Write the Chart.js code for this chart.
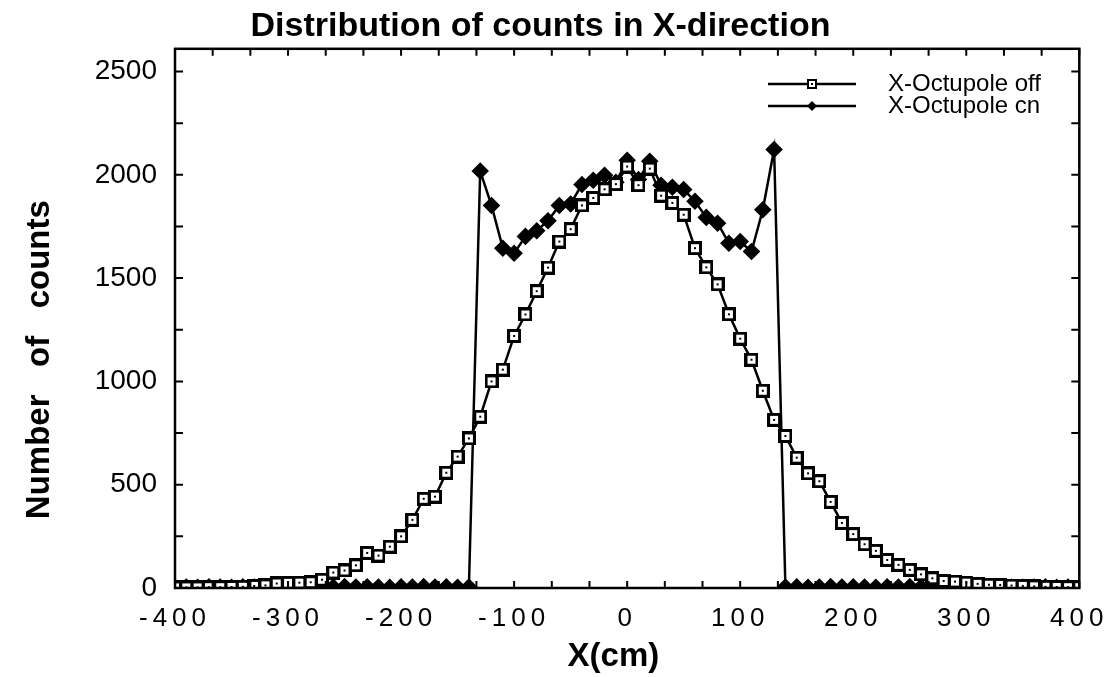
<!DOCTYPE html>
<html>
<head>
<meta charset="utf-8">
<script src="https://cdn.jsdelivr.net/npm/chart.js@4.4.0/dist/chart.umd.min.js"></script>
<style>
  html, body { margin: 0; padding: 0; background: #fff; }
</style>
</head>
<body>
<canvas id="chart" width="1116" height="677"></canvas>
<script>
// X position of each bin (cm)
const xPositions = [
  -400, -390, -380, -370, -360, -350, -340, -330, -320, -310,
  -300, -290, -280, -270, -260, -250, -240, -230, -220, -210,
  -200, -190, -180, -170, -160, -150, -140, -130, -120, -110,
  -100, -90, -80, -70, -60, -50, -40, -30, -20, -10,
  0, 10, 20, 30, 40, 50, 60, 70, 80, 90,
  100, 110, 120, 130, 140, 150, 160, 170, 180, 190,
  200, 210, 220, 230, 240, 250, 260, 270, 280, 290,
  300, 310, 320, 330, 340, 350, 360, 370, 380, 390, 400
];

// counts with the octupole switched off
const countsOff = [
  3, 3, 3, 4, 4, 5, 6, 10, 13, 22,
  25, 26, 28, 40, 75, 85, 110, 170, 157, 200,
  250, 330, 432, 442, 558, 636, 724, 829, 1000, 1057,
  1220, 1324, 1437, 1551, 1677, 1737, 1852, 1888, 1930, 1955,
  2040, 1950, 2030, 1899, 1864, 1807, 1645, 1552, 1470, 1325,
  1207, 1105, 955, 814, 736, 631, 555, 517, 417, 315,
  261, 212, 180, 136, 112, 88, 66, 47, 34, 31,
  26, 20, 16, 15, 12, 10, 8, 6, 5, 4, 4
];

// counts with the octupole switched on
const countsOn = [
  4, 5, 4, 6, 5, 4, 6, 5, 7, 5,
  6, 5, 4, 6, 5, 7, 5, 6, 5, 4,
  6, 5, 7, 5, 6, 4, 5, 2018, 1852, 1645,
  1620, 1702, 1729, 1778, 1852, 1859, 1953, 1974, 1998, 1964,
  2070, 1977, 2066, 1950, 1940, 1929, 1872, 1794, 1766, 1669,
  1677, 1629, 1831, 2123, 5, 6, 4, 5, 7, 5,
  6, 5, 4, 6, 5, 7, 5, 6, 4, 5,
  6, 5, 4, 6, 5, 4, 5, 6, 4, 5, 4
];

const seriesNames = ['X-Octupole off', 'X-Octupole cn'];
const xTickValues = [-400, -300, -200, -100, 0, 100, 200, 300, 400];
const yTickValues = [0, 500, 1000, 1500, 2000, 2500];

const FONT = "'Liberation Sans', Arial, Helvetica, sans-serif";

// open square with a dot in the middle
function makeSquareMarker(size, edge, dot) {
  const c = document.createElement('canvas');
  c.width = size;
  c.height = size;
  const g = c.getContext('2d');
  g.fillStyle = '#000';
  g.fillRect(0, 0, size, size);
  g.fillStyle = '#fff';
  g.fillRect(edge, edge, size - 2 * edge, size - 2 * edge);
  g.fillStyle = '#000';
  const d0 = (size - dot) / 2;
  g.fillRect(d0, d0, dot, dot);
  return c;
}
const squareMarker = makeSquareMarker(14, 3, 2);
const legendSquare = makeSquareMarker(10, 2, 2);

// frame round the plot plus the small inward ticks on all four sides
const frameTicks = {
  id: 'frameTicks',
  afterDraw(chart) {
    const { ctx, chartArea: a, scales: { x, y } } = chart;
    ctx.save();
    ctx.strokeStyle = '#000';
    ctx.lineWidth = 2.5;
    ctx.strokeRect(a.left, a.top, a.right - a.left, a.bottom - a.top);

    ctx.lineWidth = 2;
    ctx.beginPath();
    for (let v = -400; v <= 400.1; v += 100 / 3) {
      const px = x.getPixelForValue(v);
      ctx.moveTo(px, a.bottom);
      ctx.lineTo(px, a.bottom - 7);
      ctx.moveTo(px, a.top);
      ctx.lineTo(px, a.top + 7);
    }
    for (let v = 0; v <= 2500; v += 250) {
      const py = y.getPixelForValue(v);
      ctx.moveTo(a.left, py);
      ctx.lineTo(a.left + 8, py);
      ctx.moveTo(a.right, py);
      ctx.lineTo(a.right - 8, py);
    }
    ctx.stroke();
    ctx.restore();
  }
};

// the legend: a short line with its marker, then the name
const lineLegend = {
  id: 'lineLegend',
  afterDraw(chart) {
    const ctx = chart.ctx;
    const rows = [84, 106];
    ctx.save();
    rows.forEach((ry, i) => {
      ctx.strokeStyle = '#000';
      ctx.lineWidth = 2.5;
      ctx.beginPath();
      ctx.moveTo(768, ry);
      ctx.lineTo(856, ry);
      ctx.stroke();
      if (i === 0) {
        ctx.drawImage(legendSquare, 807, ry - 5);
      } else {
        ctx.fillStyle = '#000';
        ctx.beginPath();
        ctx.moveTo(812, ry - 5);
        ctx.lineTo(817, ry);
        ctx.lineTo(812, ry + 5);
        ctx.lineTo(807, ry);
        ctx.closePath();
        ctx.fill();
      }
      ctx.fillStyle = '#000';
      ctx.font = '24px ' + FONT;
      ctx.textBaseline = 'middle';
      ctx.textAlign = 'left';
      ctx.fillText(seriesNames[i], 888, ry);
    });
    ctx.restore();
  }
};

// the x tick labels are printed with wide letter spacing
const spacedXLabels = {
  id: 'spacedXLabels',
  afterLayout(chart) {
    const xs = chart.scales.x;
    if (xs._spaced) return;
    const orig = xs.drawLabels;
    xs.drawLabels = function (area) {
      const c = this.ctx;
      c.save();
      c.letterSpacing = '5px';
      orig.call(this, area);
      c.restore();
    };
    xs._spaced = true;
  }
};

const ctx = document.getElementById('chart').getContext('2d');

new Chart(ctx, {
  type: 'line',
  data: {
    datasets: [
      {
        label: seriesNames[0],
        data: xPositions.map((x, i) => ({ x: x, y: countsOff[i] })),
        borderColor: '#000',
        borderWidth: 2.5,
        pointStyle: squareMarker,
        tension: 0
      },
      {
        label: seriesNames[1],
        data: xPositions.map((x, i) => ({ x: x, y: countsOn[i] })),
        borderColor: '#000',
        borderWidth: 2.5,
        pointStyle: 'rectRot',
        pointRadius: 7,
        pointBackgroundColor: '#000',
        pointBorderColor: '#000',
        tension: 0
      }
    ]
  },
  options: {
    responsive: false,
    animation: false,
    devicePixelRatio: 1,
    layout: { padding: { left: 0, right: 35, top: 0, bottom: 0 } },
    plugins: {
      legend: { display: false },
      tooltip: { enabled: false },
      title: {
        display: true,
        text: 'Distribution of counts in X-direction',
        color: '#000',
        font: { family: FONT, size: 34, weight: 'bold' },
        padding: { top: 6, bottom: 2 }
      }
    },
    scales: {
      x: {
        type: 'linear',
        min: -400,
        max: 400,
        afterBuildTicks: s => { s.ticks = xTickValues.map(v => ({ value: v })); },
        afterFit: s => { s.height = 89; },
        grid: { display: false, drawTicks: false },
        border: { display: false },
        ticks: {
          color: '#000',
          font: { family: FONT, size: 26 },
          padding: 15,
          maxRotation: 0,
          autoSkip: false,
          callback: v => String(v)
        },
        title: {
          display: true,
          text: 'X(cm)   ',
          color: '#000',
          font: { family: FONT, size: 33, weight: 'bold' },
          padding: { top: 0, bottom: 0 }
        }
      },
      y: {
        min: 0,
        max: 2610,
        afterBuildTicks: s => { s.ticks = yTickValues.map(v => ({ value: v })); },
        afterFit: s => { s.width = 175; },
        grid: { display: false, drawTicks: false },
        border: { display: false },
        ticks: {
          color: '#000',
          font: { family: FONT, size: 28 },
          padding: 18,
          callback: v => String(v)
        },
        title: {
          display: true,
          text: 'Number   of   counts         ',
          color: '#000',
          font: { family: FONT, size: 33, weight: 'bold' },
          padding: { top: 20, bottom: 0 }
        }
      }
    }
  },
  plugins: [frameTicks, lineLegend, spacedXLabels]
});
</script>
</body>
</html>
